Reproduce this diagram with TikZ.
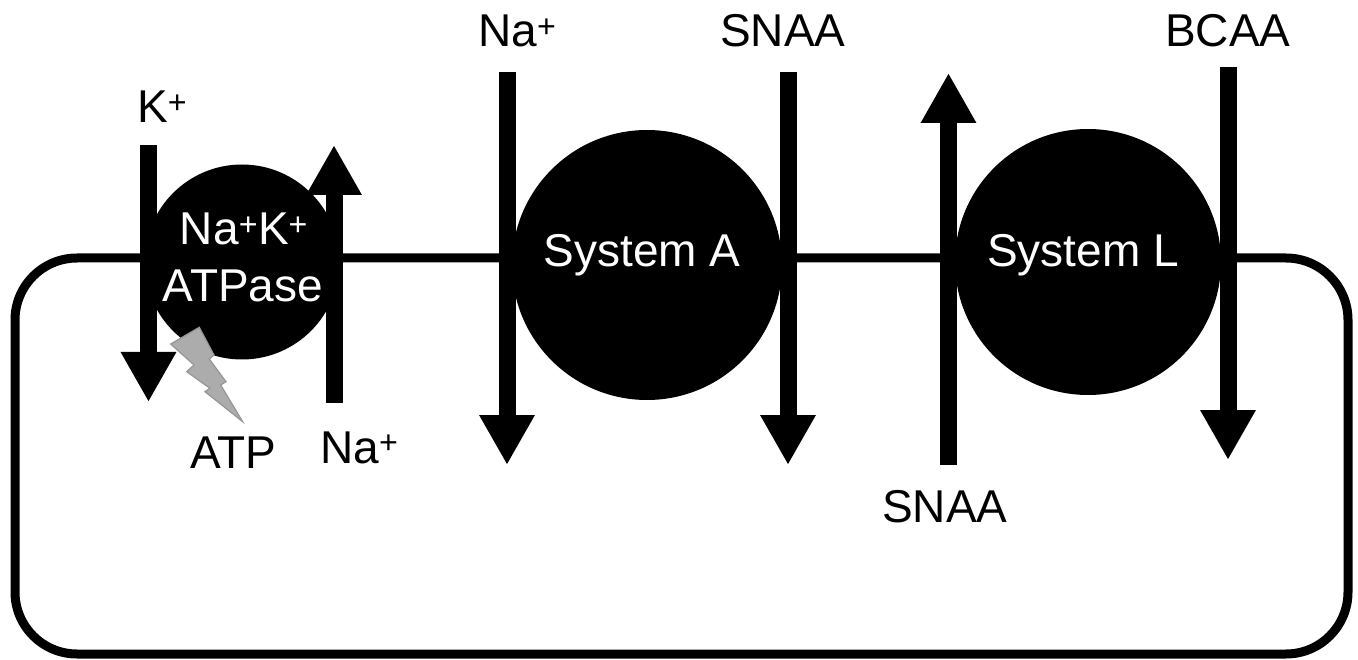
\documentclass[tikz,border=0pt]{standalone}
\usepackage{fontspec}
\setmainfont{Liberation Sans}
\usetikzlibrary{arrows.meta}
\definecolor{boltfill}{RGB}{172,172,172}
\definecolor{boltline}{RGB}{150,150,150}
\begin{document}
\begin{tikzpicture}[x=1pt,y=-1pt,
  lbl/.style={inner sep=0pt, font=\fontsize{46}{50}\selectfont, anchor=base west},
  inlbl/.style={inner sep=0pt, font=\fontsize{46}{50}\selectfont, text=white, anchor=base},
  carrier/.style={circle, fill=black, inner sep=0pt, minimum size=#1},
  flux/.style={line width=17pt, line cap=butt, -{Triangle[length=50pt,width=52pt]}},
  cell/.style={line width=9pt, rounded corners=62pt},
  bolt/.style={fill=boltfill, draw=boltline, line width=1.2pt, line join=miter}
]
\useasboundingbox (0,0) rectangle (1358,660);
% cell membrane
\draw[cell] (15,258) rectangle (1348,654);
% carriers
\node[carrier=195pt] (atpase) at (242,262) {};
\node[carrier=270pt] (sysA) at (647,265) {};
\node[carrier=266pt] (sysL) at (1088,262) {};
% carrier labels
\node[inlbl] (t1) at (244,245) {Na\textsuperscript{+}K\textsuperscript{+}};
\node[inlbl] (t2) at (243,302) {ATPase};
\node[inlbl] (tA) at (642,267) {System A};
\node[inlbl] (tL) at (1083,267) {System L};
% outside / inside labels
\node[lbl] (lK) at (137,123) {K\textsuperscript{+}};
\node[lbl] (lATP) at (190,468) {ATP};
\node[lbl] (lNa1) at (320,463) {Na\textsuperscript{+}};
\node[lbl] (lNa2) at (478,47) {Na\textsuperscript{+}};
\node[lbl] (lS1) at (720,47) {SNAA};
\node[lbl] (lB) at (1165,47) {BCAA};
\node[lbl] (lS2) at (882,522) {SNAA};
% arrow end points
\coordinate (k1) at (148.5,145);  \coordinate (k2) at (148.5,402);
\coordinate (n1) at (334,403);    \coordinate (n2) at (334,145);
\coordinate (a1) at (507,72);     \coordinate (a2) at (507,465);
\coordinate (s1) at (788,72);     \coordinate (s2) at (788,465);
\coordinate (u1) at (948.5,465);  \coordinate (u2) at (948.5,73);
\coordinate (b1) at (1228,67);    \coordinate (b2) at (1228,460);
\draw[flux] (k1) -- (k2);
\draw[flux] (n1) -- (n2);
\draw[flux] (a1) -- (a2);
\draw[flux] (s1) -- (s2);
\draw[flux] (u1) -- (u2);
\draw[flux] (b1) -- (b2);
% lightning bolt
\draw[bolt] (170.7,344) -- (199.3,327.3) -- (214,355) -- (209.3,359) -- (226,381.7)
  -- (220.7,385) -- (242.7,421.7) -- (205,391.7) -- (210,388.3) -- (186.7,371.7)
  -- (194,365) -- cycle;
\end{tikzpicture}
\end{document}
